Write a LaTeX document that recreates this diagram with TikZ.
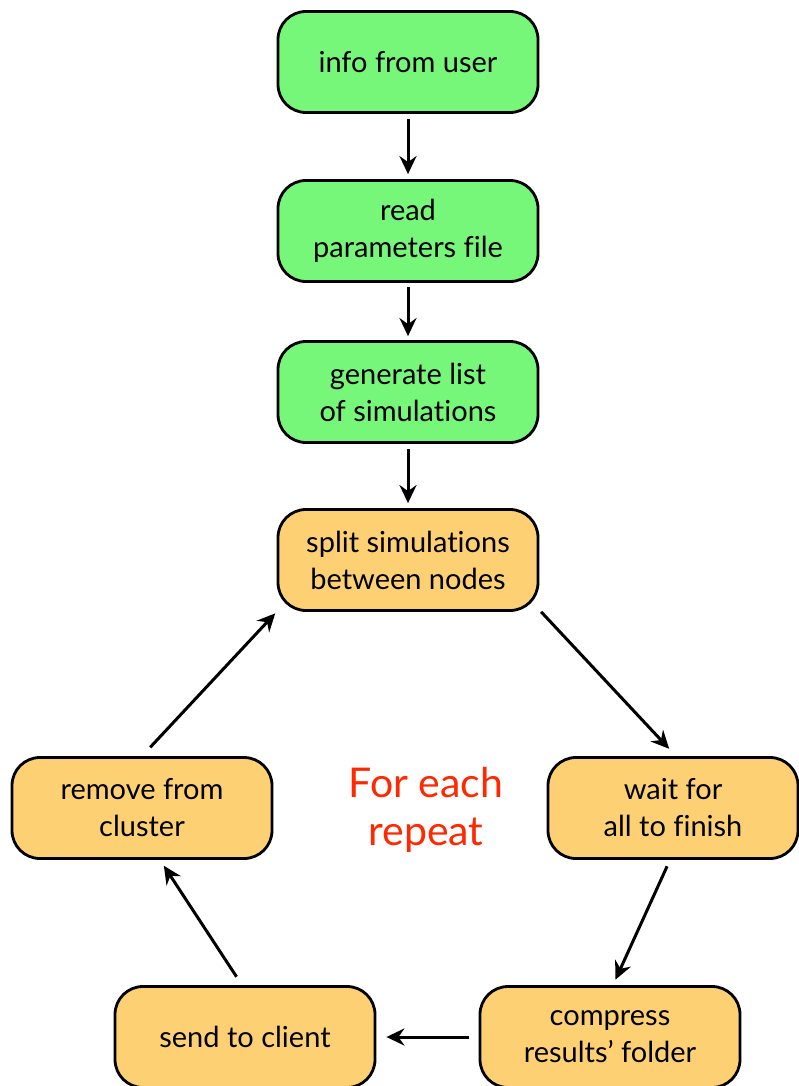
\documentclass[tikz,border=0pt]{standalone}
\usepackage{fontspec}
\setmainfont{Lato}[Ligatures={NoCommon,NoContextual}]
\usetikzlibrary{arrows.meta,calc}
\definecolor{stepgreen}{RGB}{118,247,122}
\definecolor{steporange}{RGB}{253,209,115}
\definecolor{loopred}{RGB}{255,40,0}
\tikzset{
  box/.style={draw=black, line width=2.8pt, rounded corners=28pt,
    minimum width=260pt, minimum height=101pt, inner sep=0pt,
    align=center, font=\fontsize{29}{37}\selectfont, text=black},
  greenbox/.style={box, fill=stepgreen},
  orangebox/.style={box, fill=steporange},
  flow/.style={draw=black, line width=3pt,
    -{Stealth[length=18pt,width=17pt,inset=6pt]}}
}
\begin{document}
\begin{tikzpicture}[x=1pt,y=-1pt]
\useasboundingbox (0,0) rectangle (799,1086);
\clip (0,0) rectangle (799,1086);
\fill[white] (0,0) rectangle (799,1086);

\node[greenbox] (info) at (408,62) {info from user};
\node[greenbox] (read) at (408,231) {read\\parameters file};
\node[greenbox] (gen) at (408,392) {generate list\\of simulations};
\node[orangebox] (split) at (408,560) {split simulations\\between nodes};
\node[orangebox] (remove) at (142,808) {remove from\\cluster};
\node[orangebox, minimum width=250pt] (wait) at (673,808) {wait for\\all to finish};
\node[orangebox] (send) at (245,1037) {send to client};
\node[orangebox] (compress) at (610,1037) {compress\\results' folder};

\node[text=loopred, align=center, font=\fontsize{41}{48}\selectfont] (note) at (426,810) {For each\\repeat};

\draw[flow, shorten <=5pt, shorten >=5pt] (info) -- (read);
\draw[flow, shorten <=4pt, shorten >=4pt] (read) -- (gen);
\draw[flow, shorten <=5pt, shorten >=5pt] (gen) -- (split);
\draw[flow, shorten <=4pt, shorten >=10pt] ([xshift=-1pt,yshift=3pt]split.south east) -- ([xshift=3pt]wait.north);
\draw[flow, shorten <=7pt, shorten >=6pt] ([xshift=-3pt]wait.south) -- ([xshift=3pt]compress.north);
\draw[flow, shorten <=10pt, shorten >=10pt] (compress.west) -- (send.east);
\draw[flow, shorten <=10pt, shorten >=7pt] ([xshift=-3pt]send.north) -- ([xshift=18pt]remove.south);
\draw[flow, shorten <=12pt, shorten >=2pt] (remove.north) -- (split.south west);
\end{tikzpicture}
\end{document}
